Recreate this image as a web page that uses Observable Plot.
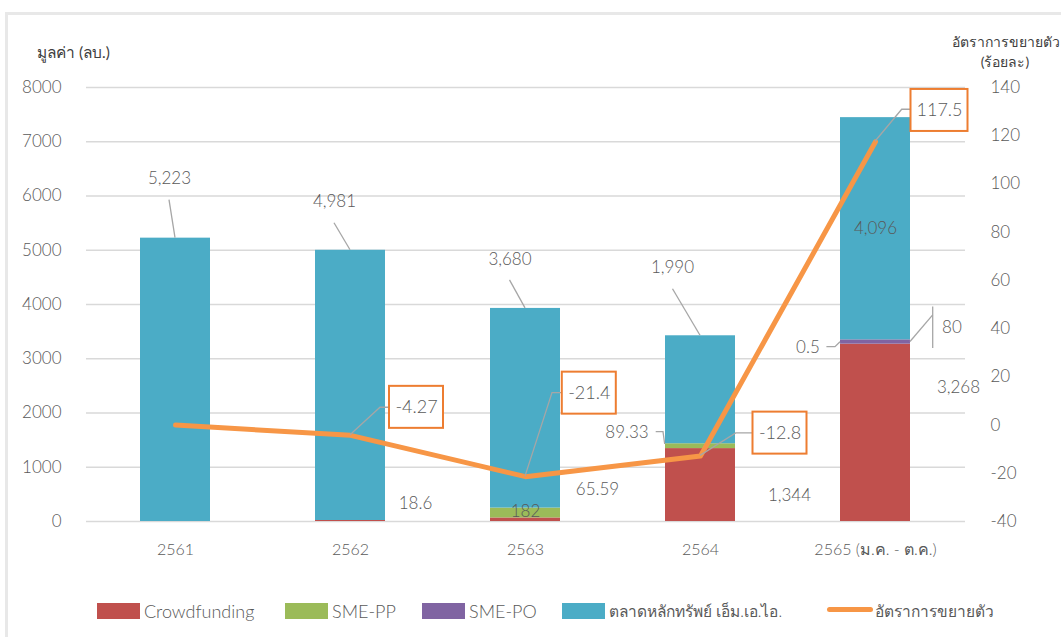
<!DOCTYPE html>
<html><head><meta charset="utf-8">
<script src="https://cdn.jsdelivr.net/npm/d3@7"></script>
<script src="https://cdn.jsdelivr.net/npm/@observablehq/plot@0.6"></script>
<style>
body{margin:0;background:#fff;font-family:Lato,"Noto Sans",sans-serif;}
#wrap{position:relative;width:1061px;height:637px;overflow:hidden;background:#fff;}
#frame{position:absolute;left:5px;top:12px;width:1200px;height:700px;border-left:3px solid #e8e8e8;border-top:3px solid #e8e8e8;}
#chart{position:absolute;left:0;top:0;}
.ttl{position:absolute;color:#404040;font-size:15px;white-space:nowrap;line-height:20px;}
.leg{position:absolute;top:600px;height:22px;display:flex;align-items:center;color:#595959;font-size:18px;font-weight:300;white-space:nowrap;}
.leg .th{font-size:15.5px;}
.sw{width:43px;height:16px;margin-right:4px;}
.ln{width:46px;height:5px;border-radius:3px;margin-right:2px;margin-top:-4px;}
</style></head><body>
<div id="wrap"><div id="frame"></div><div id="chart"></div></div>
<script>
// ---------- data ----------
const years = ["2561", "2562", "2563", "2564", "2565 (ม.ค. - ต.ค.)"];
const seriesNames = ["Crowdfunding", "SME-PP", "SME-PO", "ตลาดหลักทรัพย์ เอ็ม.เอ.ไอ."];
const crowdfunding = [0, 18.6, 65.59, 1344, 3268];
const smePP = [0, 0, 182, 89.33, 0.5];
const smePO = [0, 0, 0, 0, 80];
const mai = [5223, 4981, 3680, 1990, 4096];
const growthName = "อัตราการขยายตัว";
const growth = [0, -4.27, -21.4, -12.8, 117.5];
const leftTicks = [0, 1000, 2000, 3000, 4000, 5000, 6000, 7000, 8000];
const rightTicks = [-40, -20, 0, 20, 40, 60, 80, 100, 120, 140];
const leftTitle = "มูลค่า (ลบ.)";
const rightTitle = ["อัตราการขยายตัว", "(ร้อยละ)"];

// ---------- styles ----------
const colors = ["#C0504D", "#9BBB59", "#8064A2", "#4BACC6"];
const lineColor = "#F79646";
const boxColor = "#ED7D31";
const textColor = "#595959";
const leaderColor = "#a6a6a6";
const seriesValues = [crowdfunding, smePP, smePO, mai];

// label layout (pixel offsets from the anchor point)
const valueLabels = [
  {yi: 0, si: 3, kind: "top", dx: -6, dy: -59.5, leaders: [[[0, 0], [-6, -38]]]},
  {yi: 1, si: 3, kind: "top", dx: -16, dy: -48.5, leaders: [[[0, 0], [-16, -27]]]},
  {yi: 2, si: 3, kind: "top", dx: -15.5, dy: -48.5, leaders: [[[0, 0], [-15.5, -28]]]},
  {yi: 3, si: 3, kind: "top", dx: -28, dy: -68, leaders: [[[0, 0], [-27.5, -46.5]]]},
  {yi: 4, si: 3, kind: "mid", dx: 0, dy: 0},
  {yi: 4, si: 1, kind: "mid", dx: -67.6, dy: 3.7, leaders: [[[-35, -2], [-40, 3], [-48.6, 3]]]},
  {yi: 4, si: 2, kind: "mid", dx: 76.4, dy: -14.7, leaders: [[[35, 0], [57.7, -26.7]], [[57.7, -35], [57.7, 6.6]]]},
  {yi: 4, si: 0, kind: "mid", dx: 83, dy: -45},
  {yi: 1, si: 0, kind: "mid", dx: 65, dy: -17},
  {yi: 2, si: 1, kind: "mid", dx: 0, dy: -1},
  {yi: 2, si: 0, kind: "mid", dx: 72, dy: -30},
  {yi: 3, si: 1, kind: "mid", dx: -73.5, dy: -14, leaders: [[[-35.3, -1.7], [-37, -14], [-44.3, -14]]]},
  {yi: 3, si: 0, kind: "mid", dx: 89, dy: 11}
];
const growthLabels = [
  {yi: 1, dx: 66, dy: -28, w: 54, leader: [[0, 0], [30, -27.6], [39, -27.6]]},
  {yi: 2, dx: 63.8, dy: -83.5, w: 54, leader: [[0, 0], [27, -83.5], [37.3, -83.5]]},
  {yi: 3, dx: 79.5, dy: -22.8, w: 54, leader: [[0, 0], [35.7, -22.5], [53, -22.5]]},
  {yi: 4, dx: 64, dy: -31.3, w: 57, leader: [[0, 0], [26.7, -32], [35.4, -32]]}
];
const boxH = 42;

// ---------- derived ----------
const leftMax = leftTicks[leftTicks.length - 1];
const rMin = rightTicks[0], rMax = rightTicks[rightTicks.length - 1];
const toLeft = g => (g - rMin) / (rMax - rMin) * leftMax;
const fromLeft = v => v / leftMax * (rMax - rMin) + rMin;

const stackRows = [];
years.forEach((yr, i) => seriesValues.forEach((vals, j) =>
  stackRows.push({year: yr, series: seriesNames[j], value: vals[i]})));
const growthRows = years.map((yr, i) => ({year: yr, g: growth[i]}));

function anchorValue(yi, si, kind) {
  const vals = seriesValues.map(v => v[yi]);
  if (kind === "top") return d3.sum(vals);
  return d3.sum(vals.slice(0, si)) + vals[si] / 2;
}
const fmt = d3.format(",");

const font = "Lato, 'Noto Sans', sans-serif";
const fw = 300;

function overlay(index, scales) {
  const x = scales.x, y = scales.y, bw = x.bandwidth() / 2;
  const g = d3.create("svg:g");
  const line = d3.line();
  for (const l of valueLabels) {
    if (!l.leaders) continue;
    const px = x(years[l.yi]) + bw, py = y(anchorValue(l.yi, l.si, l.kind));
    for (const pts of l.leaders) {
      g.append("path").attr("d", line(pts.map(([a, b]) => [px + a, py + b])))
        .attr("fill", "none").attr("stroke", leaderColor).attr("stroke-width", 1.3);
    }
  }
  for (const l of growthLabels) {
    const px = x(years[l.yi]) + bw, py = y(toLeft(growth[l.yi]));
    g.append("path").attr("d", line(l.leader.map(([a, b]) => [px + a, py + b])))
      .attr("fill", "none").attr("stroke", leaderColor).attr("stroke-width", 1.3);
    g.append("rect").attr("x", px + l.dx - l.w / 2).attr("y", py + l.dy - boxH / 2)
      .attr("width", l.w).attr("height", boxH)
      .attr("fill", "#fff").attr("stroke", boxColor).attr("stroke-width", 2);
  }
  return g.node();
}

const marks = [
  Plot.gridY(leftTicks, {stroke: "#d9d9d9", strokeOpacity: 1, strokeWidth: 1.3}),
  Plot.barY(stackRows, {x: "year", y: "value", fill: "series", order: seriesNames}),
  Plot.line(growthRows, {x: "year", y: d => toLeft(d.g), stroke: lineColor, strokeWidth: 5, strokeLinecap: "round", strokeLinejoin: "round"}),
  overlay,
  ...valueLabels.map(l => Plot.text([l], {
    x: d => years[d.yi], y: d => anchorValue(d.yi, d.si, d.kind),
    text: d => fmt(seriesValues[d.si][d.yi]),
    dx: l.dx, dy: l.dy, fill: textColor, fontSize: 17, fontFamily: font, fontWeight: fw
  })),
  ...growthLabels.map(l => Plot.text([l], {
    x: d => years[d.yi], y: d => toLeft(growth[d.yi]),
    text: d => String(growth[d.yi]),
    dx: l.dx, dy: l.dy, fill: textColor, fontSize: 18, fontFamily: font, fontWeight: fw
  })),
  Plot.axisY(leftTicks, {anchor: "left", tickSize: 0, tickPadding: 25, tickFormat: d => String(d), fill: textColor, fontSize: 17, fontFamily: font, fontWeight: fw, label: null}),
  Plot.axisY(rightTicks.map(toLeft), {anchor: "right", tickSize: 0, tickPadding: 25, tickFormat: v => String(Math.round(fromLeft(v))), fill: textColor, fontSize: 17, fontFamily: font, fontWeight: fw, label: null}),
  Plot.axisX({anchor: "bottom", tickSize: 0, tickPadding: 22, fill: textColor, fontSize: 16, fontFamily: font, fontWeight: fw, label: null})
];

const chart = Plot.plot({
  width: 1061,
  height: 580,
  marginTop: 87,
  marginBottom: 59,
  marginLeft: 86,
  marginRight: 96,
  style: {fontFamily: font, fontSize: "17px", color: textColor, background: "transparent"},
  x: {domain: years, paddingInner: 0.6, paddingOuter: 0.3, label: null},
  y: {domain: [0, leftMax], label: null},
  color: {domain: seriesNames, range: colors},
  marks
});
document.getElementById("chart").appendChild(chart);

// titles
const wrap = document.getElementById("wrap");
const t1 = document.createElement("div");
t1.className = "ttl"; t1.style.left = "37px"; t1.style.top = "42px"; t1.style.fontSize = "15.5px";
t1.textContent = leftTitle; wrap.appendChild(t1);
const t2 = document.createElement("div");
t2.className = "ttl"; t2.style.left = "952px"; t2.style.top = "32px"; t2.style.width = "106px"; t2.style.textAlign = "center"; t2.style.fontSize = "14px";
t2.innerHTML = rightTitle.map(s => `<div>${s}</div>`).join(""); wrap.appendChild(t2);

// legend
const legLeft = [97, 285, 422, 562, 827];
seriesNames.forEach((name, i) => {
  const it = document.createElement("div");
  it.className = "leg"; it.style.left = legLeft[i] + "px";
  it.innerHTML = `<div class="sw" style="background:${colors[i]}"></div><span class="${i === 3 ? "th" : ""}">${name}</span>`;
  wrap.appendChild(it);
});
const li = document.createElement("div");
li.className = "leg"; li.style.left = legLeft[4] + "px";
li.innerHTML = `<div class="ln" style="background:${lineColor}"></div><span class="th">${growthName}</span>`;
wrap.appendChild(li);
</script>
</body></html>
